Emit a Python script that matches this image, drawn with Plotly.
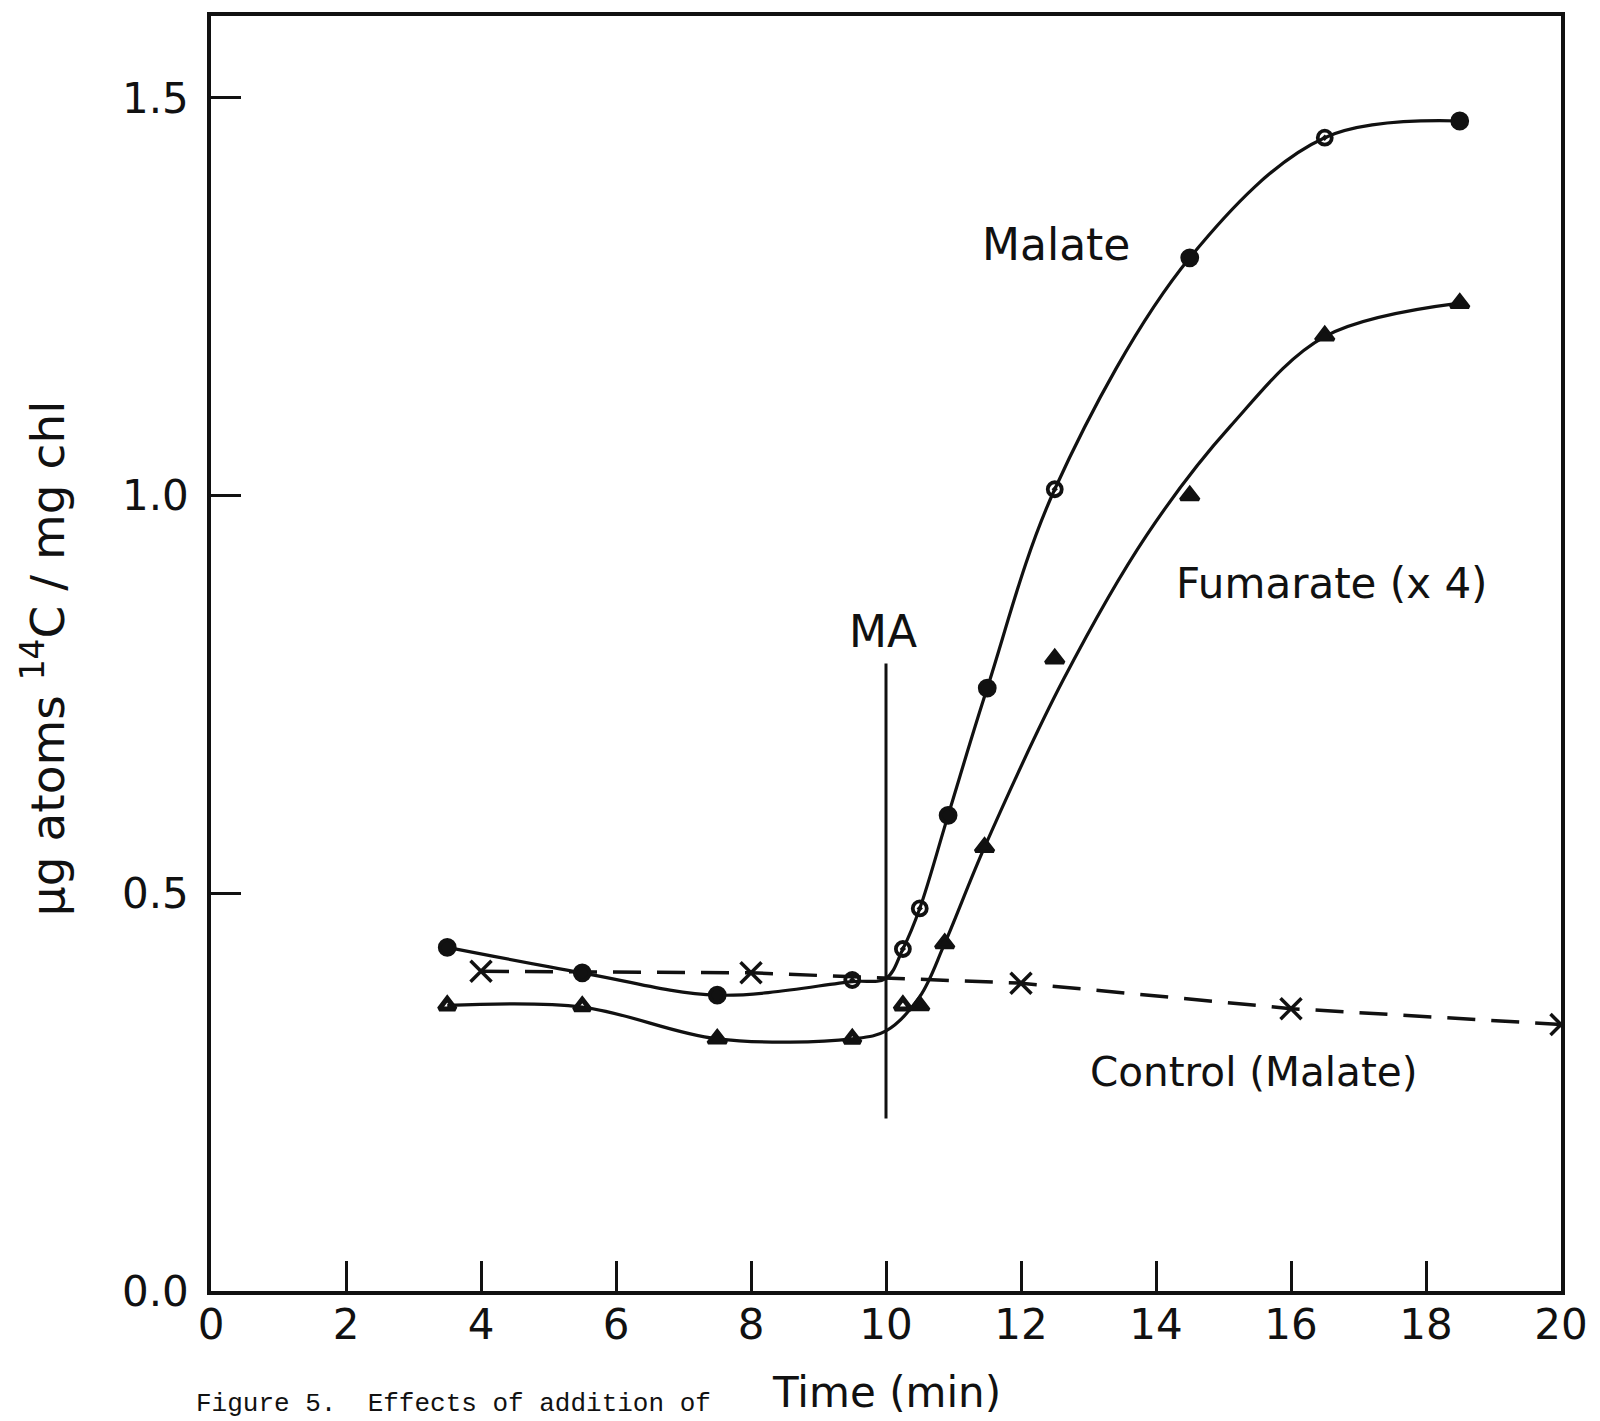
import plotly.graph_objects as go

# ---- data ----
malate_time = [3.5, 5.5, 7.5, 9.5, 10.25, 10.5, 10.92, 11.5, 12.5, 14.5, 16.5, 18.5]
malate_value = [0.432, 0.400, 0.372, 0.391, 0.430, 0.481, 0.598, 0.758, 1.008, 1.299, 1.450, 1.471]
malate_filled = [True, True, True, False, False, False, True, True, False, True, False, True]

malate_curve_time = [3.5, 5.5, 7.5, 9.5, 10.0, 10.25, 10.5, 10.92, 11.5, 12.5, 14.5, 16.5, 18.5]
malate_curve_value = [0.432, 0.400, 0.372, 0.389, 0.393, 0.430, 0.481, 0.598, 0.758, 1.008, 1.299, 1.450, 1.471]

fumarate_time = [3.5, 5.5, 7.5, 9.5, 10.25, 10.5, 10.87, 11.46, 12.5, 14.5, 16.5, 18.5]
fumarate_value = [0.359, 0.358, 0.317, 0.317, 0.359, 0.359, 0.437, 0.558, 0.795, 1.000, 1.201, 1.242]
fumarate_filled = [False, False, True, False, False, True, True, True, True, True, True, True]

fumarate_curve_time = [3.5, 5.5, 7.5, 9.5, 10.0, 10.5, 10.87, 11.46, 12.63, 13.86, 15.1, 16.5, 18.5]
fumarate_curve_value = [0.359, 0.357, 0.317, 0.317, 0.327, 0.370, 0.437, 0.558, 0.769, 0.950, 1.087, 1.200, 1.242]

control_time = [4, 8, 12, 16, 20]
control_value = [0.402, 0.400, 0.387, 0.355, 0.335]

ma_time = [10, 10]
ma_span = [0.217, 0.789]

x_ticks = [0, 2, 4, 6, 8, 10, 12, 14, 16, 18, 20]
y_ticks = [0.0, 0.5, 1.0, 1.5]
y_tick_labels = ["0.0", "0.5", "1.0", "1.5"]

FONT = "DejaVu Sans"
BLACK = "#111111"

fig = go.Figure()

# control (dashed)
fig.add_trace(go.Scatter(
    x=control_time, y=control_value, mode="lines+markers",
    line=dict(color=BLACK, width=3.5, dash="28px,16px"),
    marker=dict(symbol="x-thin-open", size=21, opacity=1,
                line=dict(color=BLACK, width=3.5)),
    showlegend=False))

# curves
fig.add_trace(go.Scatter(
    x=malate_curve_time, y=malate_curve_value, mode="lines",
    line=dict(color=BLACK, width=3.2, shape="spline", smoothing=1.0), showlegend=False))
fig.add_trace(go.Scatter(
    x=fumarate_curve_time, y=fumarate_curve_value, mode="lines",
    line=dict(color=BLACK, width=3.2, shape="spline", smoothing=1.0), showlegend=False))

# markers
fig.add_trace(go.Scatter(
    x=malate_time, y=malate_value, mode="markers",
    marker=dict(
        symbol=["circle" if f else "circle-open-dot" for f in malate_filled],
        size=[15 if f else 14 for f in malate_filled],
        opacity=1, color=BLACK, line=dict(color=BLACK, width=3.8)),
    showlegend=False))
fig.add_trace(go.Scatter(
    x=fumarate_time, y=fumarate_value, mode="markers",
    marker=dict(
        symbol=["triangle-up" if f else "triangle-up-open" for f in fumarate_filled],
        size=[16 if f else 14 for f in fumarate_filled],
        opacity=1, color=BLACK, line=dict(color=BLACK, width=[3.5 if f else 5 for f in fumarate_filled])),
    showlegend=False))

# MA marker line
fig.add_trace(go.Scatter(
    x=ma_time, y=ma_span, mode="lines",
    line=dict(color=BLACK, width=3), showlegend=False))

fig.add_annotation(x=9.95, y=ma_span[1], text="MA", showarrow=False,
                   yanchor="bottom", yshift=4, font=dict(family=FONT, size=44, color=BLACK))
fig.add_annotation(x=12.52, y=1.316, text="Malate", showarrow=False,
                   font=dict(family=FONT, size=44, color=BLACK))
fig.add_annotation(x=16.6, y=0.889, text="Fumarate (x 4)", showarrow=False,
                   font=dict(family=FONT, size=42, color=BLACK))
fig.add_annotation(x=15.45, y=0.275, text="Control (Malate)", showarrow=False,
                   font=dict(family=FONT, size=40.5, color=BLACK))

# axis titles & caption
fig.add_annotation(xref="paper", yref="paper", x=-0.124, y=0.496,
                   xanchor="center", yanchor="middle",
                   text="μg atoms <sup>14</sup>C / mg chl", showarrow=False,
                   textangle=-90, font=dict(family=FONT, size=47, color=BLACK))
fig.add_annotation(xref="paper", yref="paper", x=0.5, y=-0.0795, yanchor="middle",
                   text="Time (min)", showarrow=False,
                   font=dict(family=FONT, size=42, color=BLACK))
fig.add_annotation(xref="paper", yref="paper", x=-0.0125, y=-0.0885, xanchor="left",
                   yanchor="middle",
                   text="Figure 5.  Effects of addition of", showarrow=False,
                   font=dict(family="Liberation Mono", size=26, color=BLACK))

fig.update_layout(
    width=1600, height=1421,
    margin=dict(l=211, r=34, t=12, b=130),
    paper_bgcolor="white", plot_bgcolor="white",
    xaxis=dict(range=[0, 20], tickvals=x_ticks, ticks="inside", ticklen=30,
               tickwidth=3, tickcolor=BLACK, showgrid=False, zeroline=False,
               showline=True, linewidth=3.5, linecolor=BLACK, mirror=True,
               ticklabelstandoff=-6,
               tickfont=dict(family=FONT, size=42, color=BLACK)),
    yaxis=dict(range=[0, 1.603], tickvals=y_ticks, ticktext=y_tick_labels,
               ticks="inside", ticklen=30, tickwidth=3, tickcolor=BLACK,
               showgrid=False, zeroline=False, showline=True, linewidth=3.5,
               linecolor=BLACK, mirror=True, ticklabelstandoff=10,
               tickfont=dict(family=FONT, size=42, color=BLACK)),
)

fig.write_html("out.html")
